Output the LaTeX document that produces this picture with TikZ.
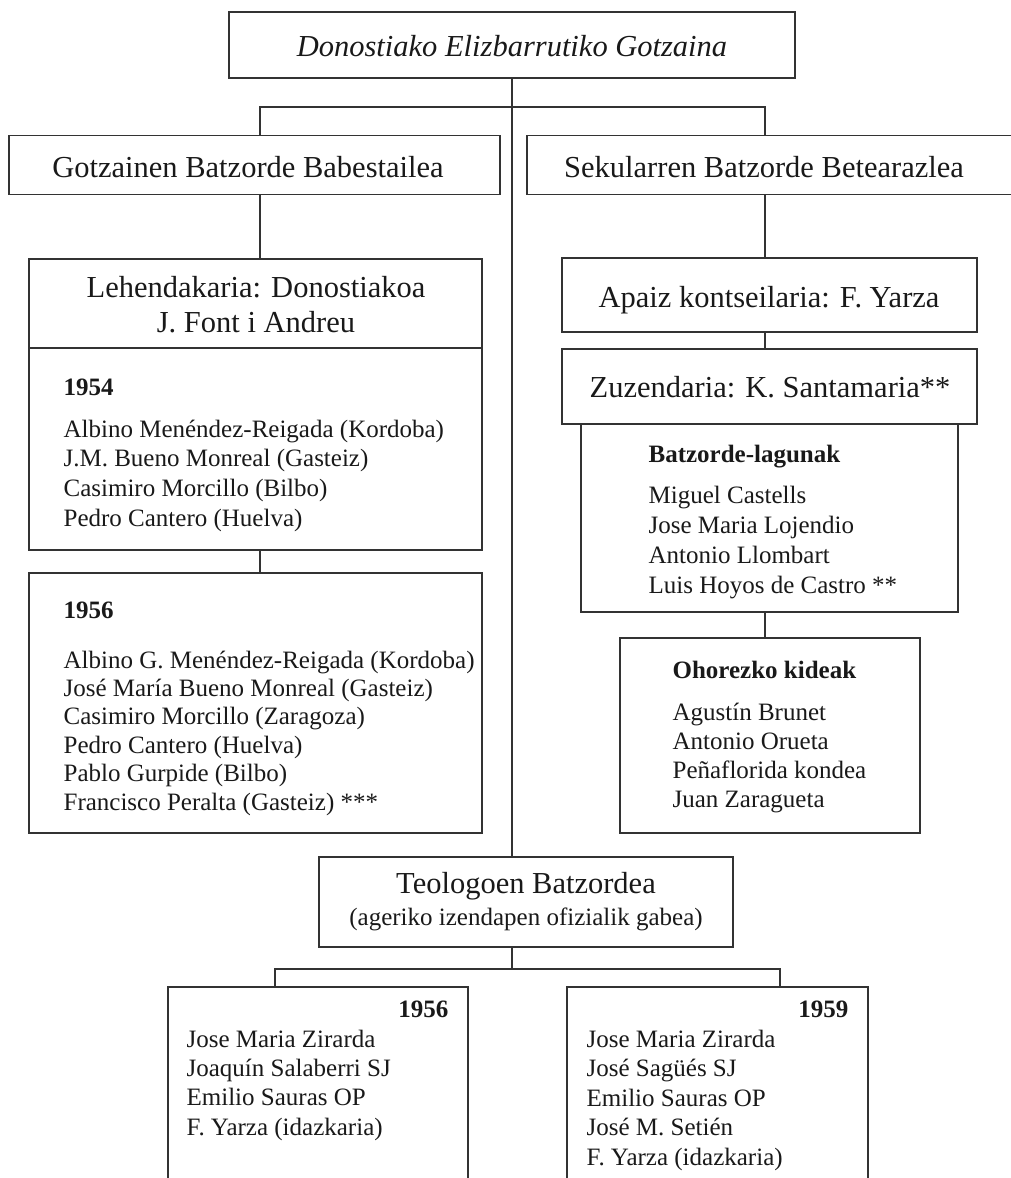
\documentclass[tikz,border=0pt]{standalone}
\usepackage{fontspec}
\setmainfont{Liberation Serif}
\usetikzlibrary{calc}
\begin{document}
\begin{tikzpicture}[x=1pt,y=-1pt,
  line width=1.2pt,
  box/.style={draw=black!80, rectangle, inner sep=0pt, outer sep=0pt},
  link/.style={draw=black!80, line width=1.2pt},
  ttl/.style={font=\fontsize{30.5}{36}\selectfont, anchor=base, inner sep=0pt, text=black!90},
  subttl/.style={font=\fontsize{25}{30}\selectfont, anchor=base, inner sep=0pt, text=black!90},
  nm/.style={font=\fontsize{25}{30}\selectfont, anchor=base west, inner sep=0pt, text=black!90},
  hd/.style={font=\fontsize{25}{30}\selectfont\bfseries, anchor=base west, inner sep=0pt, text=black!90}]
\useasboundingbox (0,0) rectangle (1011,1178);
\clip (0,0) rectangle (1011,1178);

% boxes
\node[box, minimum width=566pt, minimum height=66pt] (top) at (512,45) {};
\node[box, minimum width=491pt, minimum height=59pt] (gotz) at (254.5,165) {};
\node[box, minimum width=513pt, minimum height=59pt] (sek) at (783.5,165) {};
\node[box, minimum width=453pt, minimum height=291pt] (lehen) at (255.5,404.5) {};
\node[box, minimum width=415pt, minimum height=74pt] (apaiz) at (769.5,295) {};
\node[box, minimum width=415pt, minimum height=75pt] (zuz) at (769.5,386.5) {};
\node[box, minimum width=377pt, minimum height=188pt] (batz) at (769.5,518) {};
\node[box, minimum width=300pt, minimum height=195pt] (ohor) at (770,735.5) {};
\node[box, minimum width=453pt, minimum height=260pt] (yb56) at (255.5,703) {};
\node[box, minimum width=414pt, minimum height=90pt] (teol) at (526,902) {};
\node[box, minimum width=300pt, minimum height=213pt] (tb56) at (318,1093.5) {};
\node[box, minimum width=301pt, minimum height=213pt] (tb59) at (717.5,1093.5) {};
\draw[link] ($(lehen.north west)+(0,89)$) -- ($(lehen.north east)+(0,89)$);

% connectors
\coordinate (barL) at (260,107);
\coordinate (barR) at (765,107);
\coordinate (bar2L) at (275,969);
\coordinate (bar2R) at (780,969);
\draw[link] (top.south) -- (top.south |- teol.north);
\draw[link] (barL |- gotz.north) -- (barL) -- (barR) -- (barR |- sek.north);
\draw[link] (barL |- gotz.south) -- (barL |- lehen.north);
\draw[link] (barL |- lehen.south) -- (barL |- yb56.north);
\draw[link] (barR |- sek.south) -- (barR |- apaiz.north);
\draw[link] (barR |- apaiz.south) -- (barR |- zuz.north);
\draw[link] (barR |- batz.south) -- (barR |- ohor.north);
\draw[link] (top.south |- teol.south) -- (top.south |- bar2L);
\draw[link] (bar2L |- tb56.north) -- (bar2L) -- (bar2R) -- (bar2R |- tb59.north);

% titles
\node[ttl, font=\fontsize{30.5}{36}\selectfont\itshape] (ttop) at (512,56) {Donostiako Elizbarrutiko Gotzaina};
\node[ttl] (tgotz) at (248,177) {Gotzainen Batzorde Babestailea};
\node[ttl] (tsek) at (764,177) {Sekularren Batzorde Betearazlea};
\node[ttl] (tleh1) at (256,297) {Lehendakaria: Donostiakoa};
\node[ttl] (tleh2) at (256,332) {J. Font i Andreu};
\node[ttl] (tapaiz) at (769,307) {Apaiz kontseilaria: F. Yarza};
\node[ttl] (tzuz) at (770,397) {Zuzendaria: K. Santamaria**};
\node[ttl] (tteol) at (526,893) {Teologoen Batzordea};
\node[subttl] (tteol2) at (526,925) {(ageriko izendapen ofizialik gabea)};

% 1954
\node[hd] (h54) at (63,395) {1954};
\foreach \t [count=\i] in {Albino Menéndez-Reigada (Kordoba), J.M. Bueno Monreal (Gasteiz), Casimiro Morcillo (Bilbo), Pedro Cantero (Huelva)}
  \node[nm] (n54-\i) at (63,{437+29.7*(\i-1)}) {\t};

% 1956 bishops
\node[hd] (h56) at (63,618) {1956};
\foreach \t [count=\i] in {Albino G. Menéndez-Reigada (Kordoba), José María Bueno Monreal (Gasteiz), Casimiro Morcillo (Zaragoza), Pedro Cantero (Huelva), Pablo Gurpide (Bilbo), Francisco Peralta (Gasteiz) ***}
  \node[nm] (n56-\i) at (63,{668+28.4*(\i-1)}) {\t};

% Batzorde-lagunak
\node[hd] (hbatz) at (648,462) {Batzorde-lagunak};
\foreach \t [count=\i] in {Miguel Castells, Jose Maria Lojendio, Antonio Llombart, Luis Hoyos de Castro **}
  \node[nm] (nb-\i) at (648,{503+30*(\i-1)}) {\t};

% Ohorezko kideak
\node[hd] (hohor) at (672,678) {Ohorezko kideak};
\foreach \t [count=\i] in {Agustín Brunet, Antonio Orueta, Peñaflorida kondea, Juan Zaragueta}
  \node[nm] (no-\i) at (672,{720+29*(\i-1)}) {\t};

% Theologians 1956
\node[hd, anchor=base east] (ht56) at (449,1017) {1956};
\foreach \t [count=\i] in {Jose Maria Zirarda, Joaquín Salaberri SJ, Emilio Sauras OP, F. Yarza (idazkaria)}
  \node[nm] (nt56-\i) at (186,{1047+29.4*(\i-1)}) {\t};

% Theologians 1959
\node[hd, anchor=base east] (ht59) at (849,1017) {1959};
\foreach \t [count=\i] in {Jose Maria Zirarda, José Sagüés SJ, Emilio Sauras OP, José M. Setién, F. Yarza (idazkaria)}
  \node[nm] (nt59-\i) at (586,{1047+29.5*(\i-1)}) {\t};
\end{tikzpicture}
\end{document}
